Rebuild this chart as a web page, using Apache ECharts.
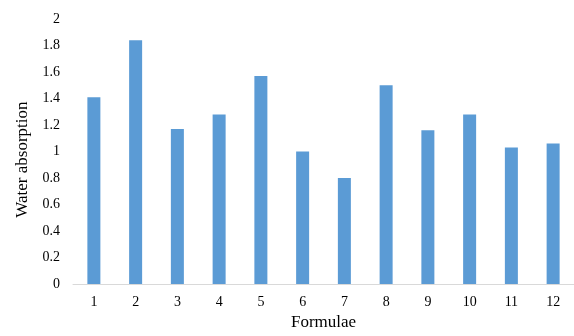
<!DOCTYPE html>
<html>
<head>
<meta charset="utf-8">
<script src="https://cdn.jsdelivr.net/npm/echarts@6/dist/echarts.min.js"></script>
<style>html,body{margin:0;padding:0;background:#fff}#c{width:574px;height:336px}</style>
</head>
<body>
<div id="c"></div>
<script>
const categories = ['1','2','3','4','5','6','7','8','9','10','11','12'];
const waterAbsorption = [1.41, 1.84, 1.17, 1.28, 1.57, 1.00, 0.80, 1.50, 1.16, 1.28, 1.03, 1.06];
const xTitle = 'Formulae';
const yTitle = 'Water absorption';

const chart = echarts.init(document.getElementById('c'), null, {renderer: 'canvas'});
const font = '"Liberation Serif", "Times New Roman", serif';
chart.setOption({
  animation: false,
  grid: {left: 73, right: 0, top: 19, bottom: 47, containLabel: false},
  xAxis: {
    type: 'category',
    data: categories,
    name: xTitle,
    nameLocation: 'middle',
    nameGap: 28,
    nameTextStyle: {fontFamily: font, fontSize: 17, color: '#000'},
    axisLine: {lineStyle: {color: '#d9d9d9', width: 1}},
    axisTick: {show: false},
    axisLabel: {fontFamily: font, fontSize: 14, color: '#000', margin: 11}
  },
  yAxis: {
    type: 'value',
    min: 0, max: 2, interval: 0.2,
    name: yTitle,
    nameLocation: 'middle',
    nameGap: 42,
    nameTextStyle: {fontFamily: font, fontSize: 17, color: '#000', padding: [0, 16, 0, 0]},
    axisLine: {show: false},
    axisTick: {show: false},
    splitLine: {show: false},
    axisLabel: {fontFamily: font, fontSize: 14, color: '#000', margin: 13}
  },
  series: [{
    type: 'bar',
    data: waterAbsorption,
    barWidth: 13,
    itemStyle: {color: '#5B9BD5'}
  }]
});
</script>
</body>
</html>
